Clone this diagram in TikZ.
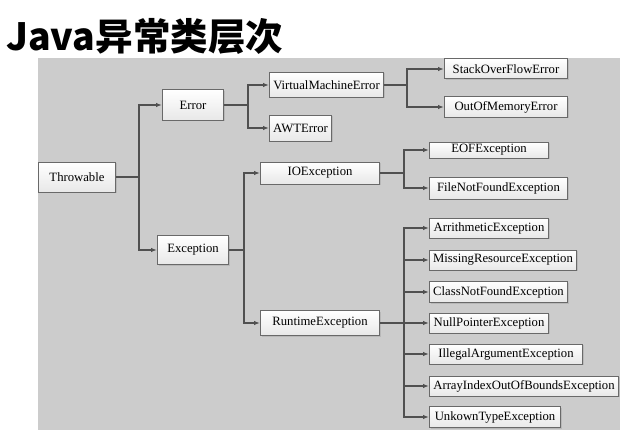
\documentclass[tikz,border=0pt]{standalone}
\usepackage{fontspec}
\setmainfont{Liberation Serif}
\newfontfamily\cjk{Noto Sans CJK SC}
\usetikzlibrary{positioning, arrows.meta, shadows}
\definecolor{mygray}{RGB}{204,204,204}
\definecolor{myline}{RGB}{80,80,80}
\definecolor{myborder}{RGB}{105,105,105}
\tikzset{
  box/.style={draw=myborder, line width=1, inner xsep=2, inner ysep=1,
    minimum height=20, anchor=west, top color=white, bottom color=black!9,
    font=\fontsize{12.7}{14}\selectfont,
    drop shadow={opacity=0.25, shadow xshift=1pt, shadow yshift=-1pt}},
  link/.style={-{Latex[length=6pt,width=4.5pt]}, line width=1.4, color=myline},
  heading/.style={draw=none, inner sep=0, anchor=west,
    font=\cjk\bfseries\fontsize{37.5}{40}\selectfont}
}

\begin{document}
\begin{tikzpicture}[x=1pt,y=-1pt]

\useasboundingbox (0,0) rectangle (635,436);
\fill[mygray] (38,58) rectangle (620,430);

\node [heading] (title) at (6,36) {Java异常类层次};

\node [box, minimum width=77, minimum height=30] (throwable) at (38,177) {Throwable};

\node [box, minimum width=61, minimum height=30] (error) at (162,105) {Error};
\node [box, minimum width=71, minimum height=29] (exception) at (157,250) {Exception};

\node [box, minimum width=114, minimum height=25] (vme) at (269,85) {VirtualMachineError};
\node [box, minimum width=62, minimum height=26] (awt) at (269,128) {AWTError};
\node [box, minimum width=119, minimum height=22] (ioex) at (260,173) {IOException};
\node [box, minimum width=119, minimum height=25] (rtex) at (260,323) {RuntimeException};

\node [box, minimum width=123] (stack) at (444,69) {StackOverFlowError};
\node [box, minimum width=123] (oom) at (444,107) {OutOfMemoryError};

\node [box, minimum width=119, minimum height=16] (eof) at (429,150) {EOFException};
\node [box, minimum width=138, minimum height=22] (fnf) at (429,188) {FileNotFoundException};

\node [box, minimum width=119] (arith) at (429,228) {ArrithmeticException};
\node [box, minimum width=147] (missing) at (429,260) {MissingResourceException};
\node [box, minimum width=138, minimum height=21] (classnf) at (429,292) {ClassNotFoundException};
\node [box, minimum width=119] (npe) at (429,323) {NullPointerException};
\node [box, minimum width=153] (iae) at (429,354) {IllegalArgumentException};
\node [box, minimum width=189] (aioobe) at (429,386) {ArrayIndexOutOfBoundsException};
\node [box, minimum width=131, minimum height=21] (unknown) at (429,417) {UnkownTypeException};

\foreach \c in {error,exception}
  \draw[link] (throwable.east) -- ++(23,0) |- (\c.west);
\foreach \c in {vme,awt}
  \draw[link] (error.east) -- ++(24,0) |- (\c.west);
\foreach \c in {ioex,rtex}
  \draw[link] (exception.east) -- ++(15,0) |- (\c.west);
\foreach \c in {stack,oom}
  \draw[link] (vme.east) -- ++(23,0) |- (\c.west);
\foreach \c in {eof,fnf}
  \draw[link] (ioex.east) -- ++(24,0) |- (\c.west);
\foreach \c in {arith,missing,classnf,npe,iae,aioobe,unknown}
  \draw[link] (rtex.east) -- ++(24,0) |- (\c.west);

\end{tikzpicture}
\end{document}
